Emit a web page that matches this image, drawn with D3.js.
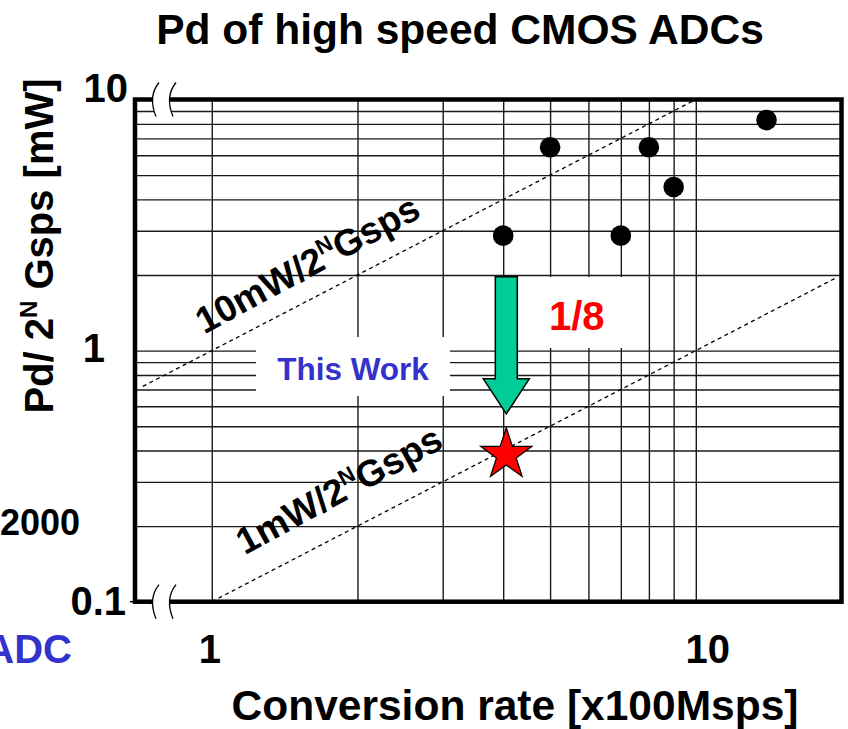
<!DOCTYPE html>
<html>
<head>
<meta charset="utf-8">
<script src="https://cdn.jsdelivr.net/npm/d3@7"></script>
<style>
  body { margin: 0; background: #fff; }
  svg { display: block; }
  text { font-family: "Liberation Sans", Arial, Helvetica, sans-serif; font-weight: bold; }
</style>
</head>
<body>
<svg id="chart" width="848" height="729"></svg>
<script>
// Grid positions (log decades)
const rateGrid = [1, 2, 3, 4, 5, 6, 7, 8, 9, 10];
const pdGrid = [0.2, 0.3, 0.4, 0.5, 0.6, 0.7, 0.8, 0.9, 1, 2, 3, 4, 5, 6, 7, 8, 9];

// Tick labels
const xTickValues = [1, 10];
const xTickLabels = ["1", "10"];
const yTickValues = [0.1, 1, 10];
const yTickLabels = ["0.1", "1", "10"];

// Published high speed CMOS ADCs: conversion rate [x100Msps] vs Pd/2^N Gsps [mW]
const adcRate = [4, 5, 7, 8, 9, 14];
const adcPd = [2.87, 6.45, 2.87, 6.45, 4.48, 8.28];

// This work
const workRate = [4.06];
const workPd = [0.385];

// Figure-of-merit reference lines: Pd/2^N = level * rate
const fomNames = ["10mW/2", "1mW/2"];
const fomLevel = [1, 0.1];
const fomStart = [0.72, 1];
const fomEnd = [10, 19.5];
const fomLabelRate = [0.965, 1.17];
const fomLabelPd = [1.16, 0.153];

// Improvement arrow (from the best prior Pd down towards this work)
const arrowFrom = [1.97];
const arrowTo = [0.56];
const reductionText = "1/8";

(function draw() {
  const svg = d3.select("#chart");

  const x = d3.scaleLog().domain([0.694, 20]).range([135, 841.5]);
  const y = d3.scaleLog().domain([0.1, 10]).range([601.7, 99.5]);
  const [pl, pr] = x.range();
  const [pb, pt] = y.range();

  // grid lines via axes
  const gridStyle = g => {
    g.select(".domain").remove();
    g.selectAll(".tick line").attr("stroke", "#1a1a1a").attr("stroke-width", 1.4);
    g.selectAll(".tick text").remove();
  };
  svg.append("g")
    .attr("transform", `translate(0,${pb})`)
    .call(d3.axisBottom(x).tickValues(rateGrid).tickSize(-(pb - pt)).tickFormat(""))
    .call(gridStyle);
  svg.append("g")
    .attr("transform", `translate(${pl},0)`)
    .call(d3.axisLeft(y).tickValues(pdGrid).tickSize(-(pr - pl)).tickFormat(""))
    .call(gridStyle);

  // dashed FOM lines
  fomLevel.forEach((k, i) => {
    svg.append("line")
      .attr("x1", x(fomStart[i])).attr("y1", y(k * fomStart[i]))
      .attr("x2", x(fomEnd[i])).attr("y2", y(k * fomEnd[i]))
      .attr("stroke", "#000").attr("stroke-width", 1.3)
      .attr("stroke-dasharray", "4,3.5");
  });

  // white label backgrounds
  svg.append("rect").attr("x", 256).attr("y", 337).attr("width", 194).attr("height", 59).attr("fill", "#fff");
  svg.append("rect").attr("x", 522).attr("y", 277).attr("width", 106).attr("height", 71).attr("fill", "#fff");

  // frame
  svg.append("rect")
    .attr("x", pl).attr("y", pt)
    .attr("width", pr - pl).attr("height", pb - pt)
    .attr("fill", "none").attr("stroke", "#000").attr("stroke-width", 4.5);

  // small tick at the bottom-left corner
  svg.append("line").attr("x1", pl - 5).attr("x2", pl).attr("y1", pb).attr("y2", pb)
    .attr("stroke", "#000").attr("stroke-width", 1.5);

  // axis break marks
  function axisBreak(cx, cy) {
    const h = 17, gap = 17;
    const a = cx, b = cx + gap;
    const mask = `M${a + 4},${cy - h} C${a - 4},${cy - h + 10} ${a - 4},${cy + h - 12} ${a + 1},${cy + h}` +
      ` L${b + 1},${cy + h} C${b - 4},${cy + h - 12} ${b - 4},${cy - h + 10} ${b + 4},${cy - h} Z`;
    svg.append("path").attr("d", mask).attr("fill", "#fff");
    [a, b].forEach(ox => {
      svg.append("path")
        .attr("d", `M${ox + 4},${cy - h} C${ox - 4},${cy - h + 10} ${ox - 4},${cy + h - 12} ${ox + 1},${cy + h}`)
        .attr("fill", "none").attr("stroke", "#000").attr("stroke-width", 1.3);
    });
  }
  axisBreak(155, pt);
  axisBreak(155, pb);

  // tick labels
  const xLabelShift = [-2, 12];
  xTickValues.forEach((v, i) => {
    svg.append("text").attr("x", x(v) + xLabelShift[i]).attr("y", 663)
      .attr("text-anchor", "middle").attr("font-size", 40).text(xTickLabels[i]);
  });
  const yLabelRight = [126, 105, 128];
  const yLabelDrop = [13, 11, 2];
  yTickValues.forEach((v, i) => {
    svg.append("text").attr("x", yLabelRight[i]).attr("y", y(v) + yLabelDrop[i])
      .attr("text-anchor", "end").attr("font-size", 40).text(yTickLabels[i]);
  });

  // titles
  svg.append("text").attr("x", 460).attr("y", 44).attr("text-anchor", "middle")
    .attr("font-size", 42.5).text("Pd of high speed CMOS ADCs");
  svg.append("text").attr("x", 515).attr("y", 720).attr("text-anchor", "middle")
    .attr("font-size", 42.5).text("Conversion rate [x100Msps]");
  const yt = svg.append("text").attr("transform", "translate(53,246) rotate(-90)")
    .attr("text-anchor", "middle").attr("font-size", 40);
  yt.append("tspan").text("Pd/ 2");
  yt.append("tspan").attr("font-size", 24).attr("dy", -16).text("N");
  yt.append("tspan").attr("dy", 16).text(" Gsps [mW]");

  // FOM line labels
  const angle = Math.atan2(y(1) - y(10), x(10) - x(1)) * 180 / Math.PI;
  fomNames.forEach((name, i) => {
    const t = svg.append("text")
      .attr("transform", `translate(${x(fomLabelRate[i])},${y(fomLabelPd[i])}) rotate(${-angle - 1})`)
      .attr("font-size", 37);
    t.append("tspan").text(name);
    t.append("tspan").attr("font-size", 22).attr("dy", -14).text("N");
    t.append("tspan").attr("dy", 14).text("Gsps");
  });

  // partial labels at the left edge
  svg.append("text").attr("x", 80).attr("y", 535).attr("text-anchor", "end")
    .attr("font-size", 36).text("2000");
  svg.append("text").attr("x", 72).attr("y", 663).attr("text-anchor", "end")
    .attr("font-size", 40).attr("fill", "#3333cc").text("ADC");

  // annotations
  svg.append("text").attr("x", 353).attr("y", 380).attr("text-anchor", "middle")
    .attr("font-size", 31.5).attr("fill", "#3333cc").text("This Work");
  svg.append("text").attr("x", 549).attr("y", 330)
    .attr("font-size", 40).attr("fill", "#ff0000").text(reductionText);

  // prior ADCs
  svg.selectAll("circle.adc").data(adcRate).join("circle")
    .attr("class", "adc")
    .attr("cx", d => x(d)).attr("cy", (d, i) => y(adcPd[i]))
    .attr("r", 10.3).attr("fill", "#000");

  // improvement arrow
  const ax = x(workRate[0]);
  const yA = y(arrowFrom[0]), yB = y(arrowTo[0]);
  const sw = 11, hw = 23, hl = 35;
  svg.append("path")
    .attr("d", `M${ax - sw},${yA} L${ax + sw},${yA} L${ax + sw},${yB - hl} L${ax + hw},${yB - hl} L${ax},${yB} L${ax - hw},${yB - hl} L${ax - sw},${yB - hl} Z`)
    .attr("fill", "#00cc99").attr("stroke", "#000").attr("stroke-width", 1.5);

  // this work star
  function starPath(cx, cy, R, r) {
    const pts = [];
    for (let k = 0; k < 10; k++) {
      const a = -Math.PI / 2 + k * Math.PI / 5;
      const rad = k % 2 === 0 ? R : r;
      pts.push([cx + rad * Math.cos(a), cy + rad * Math.sin(a)]);
    }
    return "M" + pts.map(p => p.join(",")).join("L") + "Z";
  }
  svg.selectAll("path.work").data(workRate).join("path")
    .attr("class", "work")
    .attr("d", (d, i) => starPath(x(d), y(workPd[i]), 27, 10.4))
    .attr("fill", "#ff0000").attr("stroke", "#000").attr("stroke-width", 1.2);
})();
</script>
</body>
</html>
